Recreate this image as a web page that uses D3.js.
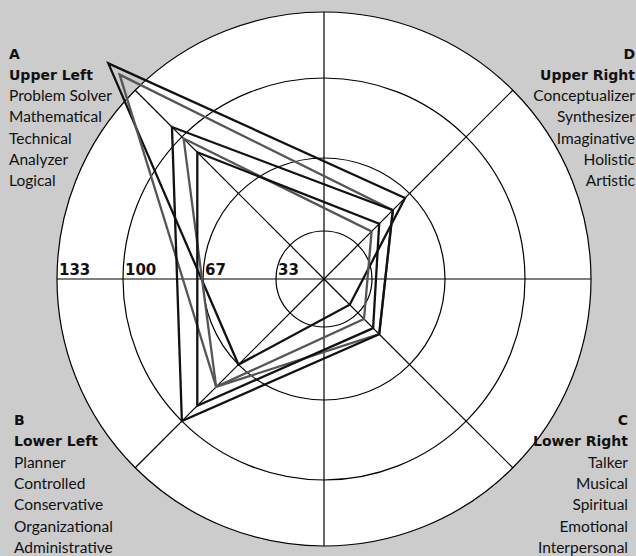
<!DOCTYPE html>
<html>
<head>
<meta charset="utf-8">
<script src="https://cdn.jsdelivr.net/npm/d3@7"></script>
<style>
  body { margin: 0; background: #cccccc; }
  text { fill: #111; }
  .label { font-family: Lato, "Open Sans", sans-serif; }
  .title, .ring { font-family: "DejaVu Sans", sans-serif; font-weight: bold; }
</style>
</head>
<body>
<div id="chart"></div>
<script>
// quadrant order round the circle: A upper left, D upper right, C lower right, B lower left
const quadrants = ["A", "D", "C", "B"];
const ringValues = [33, 67, 100, 133];
const ringLabels = ["33", "67", "100", "133"];

// one profile per line, values in quadrant order A, D, C, B
const profile1 = [152, 64, 25, 67];
const profile2 = [144, 56, 47, 80];
const profile3 = [107, 56, 47, 100];
const profile4 = [99, 42, 37, 80];
const profile5 = [91, 47, 43, 91];
const profiles = [profile1, profile2, profile3, profile4, profile5];
const profileColors = ["#111", "#555", "#111", "#555", "#111"];

const leftTop = ["A", "Upper Left", "Problem Solver", "Mathematical", "Technical", "Analyzer", "Logical"];
const rightTop = ["D", "Upper Right", "Conceptualizer", "Synthesizer", "Imaginative", "Holistic", "Artistic"];
const leftBottom = ["B", "Lower Left", "Planner", "Controlled", "Conservative", "Organizational", "Administrative"];
const rightBottom = ["C", "Lower Right", "Talker", "Musical", "Spiritual", "Emotional", "Interpersonal"];

const width = 636, height = 556;
const cx = 324, cy = 279;

// rings are not evenly spaced in the original
const r = d3.scaleLinear().domain([0, 33, 67, 100, 133]).range([0, 48, 121, 201, 267]);
// angles measured from the x axis, screen coordinates
const angleOf = { A: -3 * Math.PI / 4, D: -Math.PI / 4, C: Math.PI / 4, B: 3 * Math.PI / 4 };

const svg = d3.select("#chart").append("svg")
  .attr("width", width)
  .attr("height", height);

svg.append("rect").attr("width", width).attr("height", height).attr("fill", "#cccccc");

const g = svg.append("g").attr("transform", `translate(${cx},${cy})`);
const outer = r(133);

g.append("circle").attr("r", outer).attr("fill", "#fff").attr("stroke", "#000").attr("stroke-width", 1.2);
g.selectAll("circle.ring")
  .data(ringValues.slice(0, 3))
  .enter().append("circle")
  .attr("class", "ring")
  .attr("r", d => r(d))
  .attr("fill", "none")
  .attr("stroke", "#000")
  .attr("stroke-width", 1.2);

// spokes: horizontal, vertical and both diagonals
const spokes = d3.range(8).map(i => i * Math.PI / 4);
g.selectAll("line.spoke")
  .data(spokes)
  .enter().append("line")
  .attr("class", "spoke")
  .attr("x1", 0).attr("y1", 0)
  .attr("x2", a => outer * Math.cos(a))
  .attr("y2", a => outer * Math.sin(a))
  .attr("stroke", "#000")
  .attr("stroke-width", 1.2);

// ring labels on the left horizontal spoke
g.selectAll("text.ring")
  .data(ringValues)
  .enter().append("text")
  .attr("class", "ring")
  .attr("x", d => -r(d) + 2)
  .attr("y", -4)
  .attr("font-size", 15)
  .text((d, i) => ringLabels[i]);

// profiles
const line = d3.lineRadial()
  .angle((d, i) => angleOf[quadrants[i]] + Math.PI / 2)
  .radius(d => r(d))
  .curve(d3.curveLinearClosed);

g.selectAll("path.profile")
  .data(profiles)
  .enter().append("path")
  .attr("class", "profile")
  .attr("d", line)
  .attr("fill", "none")
  .attr("stroke", (d, i) => profileColors[i])
  .attr("stroke-width", 2.3)
  .attr("stroke-linejoin", "miter")
  .attr("stroke-miterlimit", 20);

// quadrant text blocks
const blocks = [
  { lines: leftTop, x: 9, y: 58.5, anchor: "start" },
  { lines: rightTop, x: 635, y: 58.5, anchor: "end" },
  { lines: leftBottom, x: 14, y: 425, anchor: "start" },
  { lines: rightBottom, x: 628, y: 425, anchor: "end" }
];
blocks.forEach(b => {
  svg.append("g").selectAll("text")
    .data(b.lines)
    .enter().append("text")
    .attr("class", (d, i) => i < 2 ? "title" : "label")
    .attr("x", b.x)
    .attr("y", (d, i) => b.y + i * 21.3)
    .attr("text-anchor", b.anchor)
    .attr("font-size", (d, i) => i < 2 ? 14 : 15.5)
    .text(d => d);
});
</script>
</body>
</html>
